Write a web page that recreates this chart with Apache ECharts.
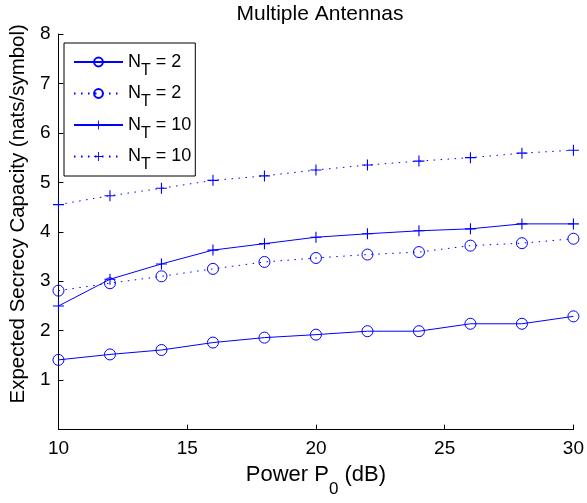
<!DOCTYPE html>
<html>
<head>
<meta charset="utf-8">
<script src="https://cdn.jsdelivr.net/npm/echarts@6/dist/echarts.min.js"></script>
<style>
html,body{margin:0;padding:0;background:#fff;}
#chart{width:587px;height:503px;}
</style>
</head>
<body>
<div id="chart"></div>
<script>
// ---- data ----
var power = [10, 12, 14, 16, 18, 20, 22, 24, 26, 28, 30];
var nt2Solid  = [1.41, 1.52, 1.61, 1.76, 1.86, 1.92, 1.99, 1.99, 2.14, 2.14, 2.29];
var nt2Dotted = [2.81, 2.96, 3.10, 3.25, 3.39, 3.47, 3.54, 3.59, 3.72, 3.77, 3.86];
var nt10Solid = [2.50, 3.04, 3.35, 3.63, 3.76, 3.89, 3.96, 4.02, 4.06, 4.16, 4.16];
var nt10Dotted= [4.55, 4.73, 4.88, 5.04, 5.13, 5.25, 5.35, 5.43, 5.50, 5.59, 5.65];
var seriesKeys = ['nt2s', 'nt2d', 'nt10s', 'nt10d'];
var seriesNT = ['2', '2', '10', '10'];
var titleText = 'Multiple Antennas';
var yName = 'Expected Secrecy Capacity (nats/symbol)';

var FONT = 'Liberation Sans, Arial, Helvetica, sans-serif';
var BLUE = '#0000ff';
var PLUS = 'path://M4.5,0H5.5V4.5H10V5.5H5.5V10H4.5V5.5H0V4.5H4.5Z';

function pairs(ys) { return power.map(function (x, i) { return [x, ys[i]]; }); }

function mk(name, ys, dotted, plus) {
  return {
    name: name,
    type: 'line',
    data: pairs(ys),
    symbol: plus ? PLUS : 'circle',
    symbolSize: 11,
    showSymbol: true,
    showAllSymbol: true,
    clip: false,
    lineStyle: { color: BLUE, width: 1, type: dotted ? [1.5, 5.5] : 'solid' },
    itemStyle: plus ? { color: BLUE, borderWidth: 0 } : { color: 'rgba(0,0,0,0)', borderColor: BLUE, borderWidth: 1 },
    emphasis: { disabled: true }
  };
}

var chart = echarts.init(document.getElementById('chart'), null, { renderer: 'canvas' });
var labelMap = {};
seriesKeys.forEach(function (k, i) { labelMap[k] = '{n|N}{s|T}{n| = ' + seriesNT[i] + '}'; });

chart.setOption({
  animation: false,
  backgroundColor: '#fff',
  title: {
    text: titleText,
    left: 315,
    top: -1,
    textAlign: 'center',
    textStyle: { fontFamily: FONT, fontSize: 21, fontWeight: 'normal', color: '#000' }
  },
  grid: { left: 53, top: 34, width: 522, height: 406, containLabel: false },
  legend: {
    orient: 'vertical',
    left: 64,
    top: 43,
    padding: [10, 4, 3, 9],
    itemWidth: 49,
    itemHeight: 11,
    itemGap: 6,
    backgroundColor: '#fff',
    borderColor: '#000',
    borderWidth: 1,
    data: seriesKeys,
    formatter: function (name) { return labelMap[name]; },
    textStyle: {
      fontFamily: FONT,
      color: '#000',
      rich: {
        n: { fontFamily: FONT, fontSize: 18, color: '#000' },
        s: { fontFamily: FONT, fontSize: 16, color: '#000', padding: [17, 0, 0, 0] }
      }
    }
  },
  xAxis: {
    type: 'value',
    min: 10, max: 30, interval: 5,
    name: '{n|Power P}{s|0}{n| (dB)}',
    nameLocation: 'middle',
    nameGap: 17,
    nameTextStyle: {
      rich: {
        n: { fontFamily: FONT, fontSize: 22, color: '#000' },
        s: { fontFamily: FONT, fontSize: 17, color: '#000', padding: [30, 0, 0, 0] }
      }
    },
    axisLine: { show: true, lineStyle: { color: '#000', width: 1 } },
    axisTick: { show: true, inside: true, length: 5, lineStyle: { color: '#000' } },
    axisLabel: { fontFamily: FONT, fontSize: 19, color: '#000', margin: 10 },
    splitLine: { show: false }
  },
  yAxis: {
    type: 'value',
    min: 0, max: 8, interval: 1,
    name: yName,
    nameLocation: 'middle',
    nameGap: 27,
    nameTextStyle: { fontFamily: FONT, fontSize: 20.5, color: '#000', padding: [0, 0, 0, 36] },
    axisLine: { show: true, lineStyle: { color: '#000', width: 1 } },
    axisTick: { show: true, inside: true, length: 5, lineStyle: { color: '#000' } },
    axisLabel: { fontFamily: FONT, fontSize: 19, color: '#000', margin: 8,
      formatter: function (v) { return v === 0 ? '' : String(v); } },
    splitLine: { show: false }
  },
  series: [
    mk('nt2s', nt2Solid, false, false),
    mk('nt2d', nt2Dotted, true, false),
    mk('nt10s', nt10Solid, false, true),
    mk('nt10d', nt10Dotted, true, true)
  ]
});
</script>
</body>
</html>
